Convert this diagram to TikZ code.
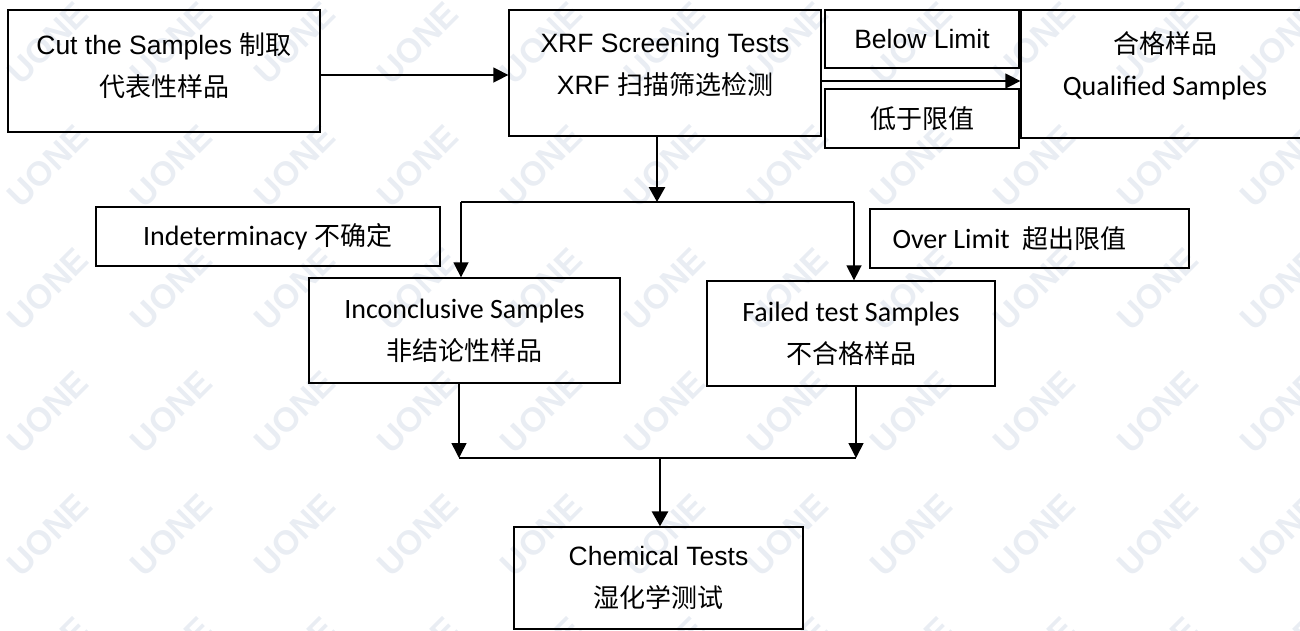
\documentclass[tikz,border=0pt]{standalone}
\usepackage{fontspec}
\setmainfont{Liberation Sans}
\newfontfamily\calibri{Carlito}
\newfontfamily\cjk{Noto Sans CJK SC}
\usetikzlibrary{arrows.meta}
\definecolor{wmgray}{RGB}{233,237,243}
\newcommand{\zh}[1]{{\cjk\fontsize{26}{42}\selectfont #1}}
\newcommand{\cb}[1]{{\calibri\fontsize{28}{42}\selectfont #1}}
\tikzset{
  box/.style = {draw, line width = 1.3pt, align = center, inner sep = 0pt,
    font = \fontsize{26.5}{42}\selectfont},
  lift/.style = {text height = 63pt, text depth = #1},
  flow/.style = {line width = 1.5pt, -{Triangle[length = 15pt, width = 15pt]}},
  trunk/.style = {line width = 2.8pt, -{Triangle[length = 15pt, width = 16pt]}},
  bar/.style = {line width = 2.2pt},
  wm/.style = {text = wmgray, rotate = 45, font = \fontsize{34}{34}\selectfont\bfseries}
}
\begin{document}
\begin{tikzpicture}[x = 1pt, y = -1pt]
\useasboundingbox (0, 0) rectangle (1300, 630);
%\draw [very thin, color = gray](0, 0) grid [step = 100] (1300, 630);
\foreach \i in {0, ..., 10}
  \foreach \j in {0, ..., 5}
    \node [wm] (wm-\i-\j) at (48 + 123.3*\i, 43 + 123*\j) {UONE};
\node [box, lift = 12pt, minimum width = 312, minimum height = 122] (cut) at (164, 71)
  {Cut the Samples \zh{制取}\\ \zh{代表性样品}};
\node [box, lift = 20pt, minimum width = 312, minimum height = 126] (xrf) at (665, 73)
  {XRF Screening Tests\\ XRF \zh{扫描筛选检测}};
\node [box, minimum width = 194, minimum height = 58] (below) at (922, 39) {Below Limit};
\node [box, minimum width = 194, minimum height = 59] (lowlim) at (922, 118.5) {\zh{低于限值}};
\node [box, lift = 20pt, minimum width = 288, minimum height = 128] (qual) at (1165, 74)
  {\zh{合格样品}\\ \cb{Qualified Samples}};
\node [box, minimum width = 344, minimum height = 59] (indet) at (268, 236.5)
  {\cb{Indeterminacy} \zh{不确定}};
\node [box, minimum width = 319, minimum height = 59] (over) at (1029.5, 238.5)
  {\cb{Over Limit\ \ }\zh{超出限值}\hspace*{40pt}};
\node [box, minimum width = 311, minimum height = 105] (incl) at (464.5, 330.5)
  {\cb{Inconclusive Samples}\\ \zh{非结论性样品}};
\node [box, minimum width = 288, minimum height = 105] (failed) at (851, 333.5)
  {\cb{Failed test Samples}\\ \zh{不合格样品}};
\node [box, minimum width = 289, minimum height = 102] (chem) at (658.5, 578)
  {Chemical Tests\\ \zh{湿化学测试}};
\coordinate (split) at (657, 202);
\coordinate (splitL) at (461, 202);
\coordinate (splitR) at (854, 202);
\coordinate (join) at (660, 458);
\coordinate (joinL) at (459, 458);
\coordinate (joinR) at (856, 458);
\draw [flow] ([yshift = -4pt]cut.east) -- ([yshift = -4pt]cut.east -| xrf.west);
\draw [flow] ([yshift = -8pt]xrf.east) -- ([yshift = -8pt]xrf.east -| qual.west);
\draw [trunk] (split |- xrf.south) -- (split);
\draw [bar] (splitL) -- (splitR);
\draw [flow] (splitL) -- (splitL |- incl.north);
\draw [flow] (splitR) -- (splitR |- failed.north);
\draw [flow] (joinL |- incl.south) -- (joinL);
\draw [flow] (joinR |- failed.south) -- (joinR);
\draw [bar] (joinL) -- (joinR);
\draw [trunk] (join) -- (join |- chem.north);
\end{tikzpicture}
\end{document}
